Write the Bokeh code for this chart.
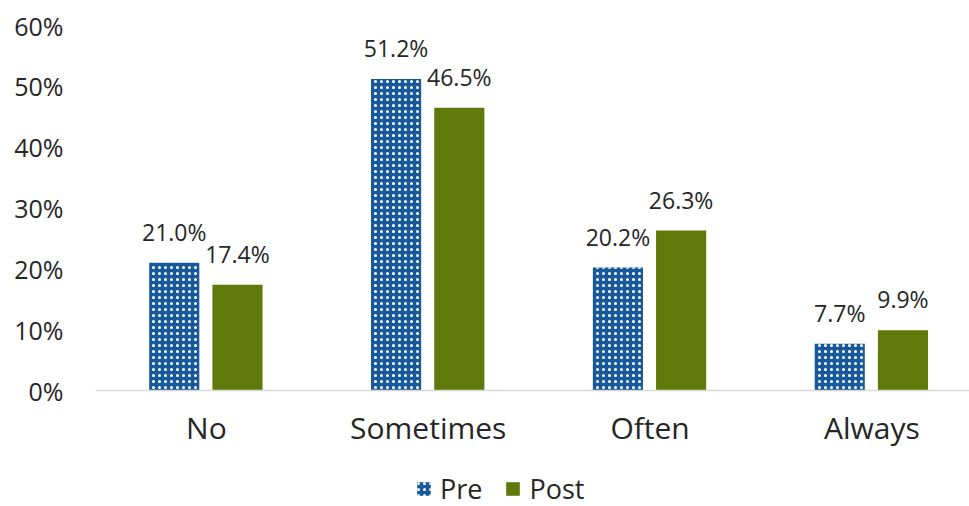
from bokeh.plotting import figure
from bokeh.layouts import column
from bokeh.models import ColumnDataSource, Range1d, FixedTicker, PrintfTickFormatter, Legend, LegendItem
from bokeh.transform import dodge
from bokeh.embed import file_html
from bokeh.resources import INLINE

categories = ["No", "Sometimes", "Often", "Always"]
pre = [21.0, 51.2, 20.2, 7.7]
post = [17.4, 46.5, 26.3, 9.9]
y_ticks = [0, 10, 20, 30, 40, 50, 60]
series_names = ["Pre", "Post"]

FONT = "Open Sans"
TXT = "#262626"
BLUE = "#17599A"
GREEN = "#5F7A0A"
HATCH = dict(hatch_pattern="dot", hatch_color="white", hatch_scale=6, hatch_weight=1.6)

xpos = list(range(len(categories)))
src = ColumnDataSource(dict(
    x=xpos, pre=pre, post=post,
    pre_lbl=[f"{v:.1f}%" for v in pre],
    post_lbl=[f"{v:.1f}%" for v in post],
))

p = figure(width=969, height=455, frame_width=874, frame_height=365,
           output_backend="svg", toolbar_location=None,
           x_range=Range1d(-0.5, 3.44), y_range=Range1d(0, 60),
           min_border_left=95, min_border_right=0, min_border_top=25, min_border_bottom=0)
p.outline_line_color = None
p.xgrid.visible = False
p.ygrid.visible = False

p.vbar(x=dodge("x", -0.145), top="pre", width=0.226, source=src,
       fill_color=BLUE, line_color=None, **HATCH)
p.vbar(x=dodge("x", 0.14), top="post", width=0.226, source=src,
       fill_color=GREEN, line_color=None)

p.text(x=dodge("x", -0.145), y="pre", text="pre_lbl", source=src, text_align="center",
       text_baseline="bottom", y_offset=-15, text_font_size="23px", text_color=TXT,
       text_font={"value": FONT})
p.text(x=dodge("x", 0.14), y="post", text="post_lbl", source=src, text_align="center",
       text_baseline="bottom", y_offset=-15, text_font_size="23px", text_color=TXT,
       text_font={"value": FONT})

p.xaxis.ticker = FixedTicker(ticks=xpos)
p.xaxis.major_label_overrides = {i: c for i, c in zip(xpos, categories)}
p.xaxis.major_tick_line_color = None
p.xaxis.minor_tick_line_color = None
p.xaxis.axis_line_color = "#D9D9D9"
p.xaxis.axis_line_width = 1.5
p.xaxis.major_label_text_font_size = "30px"
p.xaxis.major_label_text_font = FONT
p.xaxis.major_label_text_color = TXT
p.xaxis.major_label_standoff = 10

p.yaxis.ticker = FixedTicker(ticks=y_ticks)
p.yaxis.formatter = PrintfTickFormatter(format="%d%%")
p.yaxis.axis_line_color = None
p.yaxis.major_tick_line_color = None
p.yaxis.minor_tick_line_color = None
p.yaxis.major_label_text_font_size = "25px"
p.yaxis.major_label_text_font = FONT
p.yaxis.major_label_text_color = TXT
p.yaxis.major_label_standoff = 26

# legend strip (swatch glyphs have zero height; only the legend shows)
lg = figure(width=969, height=51, output_backend="svg", toolbar_location=None,
            x_range=Range1d(0, 1), y_range=Range1d(0, 1),
            x_axis_location=None, y_axis_location=None,
            min_border=0)
lg.outline_line_color = None
lg.xgrid.visible = False
lg.ygrid.visible = False
d_pre = lg.vbar(x=[0.5], top=[0], bottom=[0], width=0.0, fill_color=BLUE, line_color=None, **HATCH)
d_post = lg.vbar(x=[0.5], top=[0], bottom=[0], width=0.0, fill_color=GREEN, line_color=None)
legend = Legend(items=[LegendItem(label=series_names[0], renderers=[d_pre]),
                       LegendItem(label=series_names[1], renderers=[d_post])],
                orientation="horizontal", location=(320, -6),
                label_text_font_size="27px", label_text_font=FONT, label_text_color=TXT,
                glyph_width=17, glyph_height=17, spacing=22, label_standoff=8,
                border_line_color=None, background_fill_alpha=0, margin=0, padding=0)
lg.add_layout(legend, "center")

layout = column(p, lg, spacing=0)
open("out.html", "w").write(file_html(layout, INLINE))
